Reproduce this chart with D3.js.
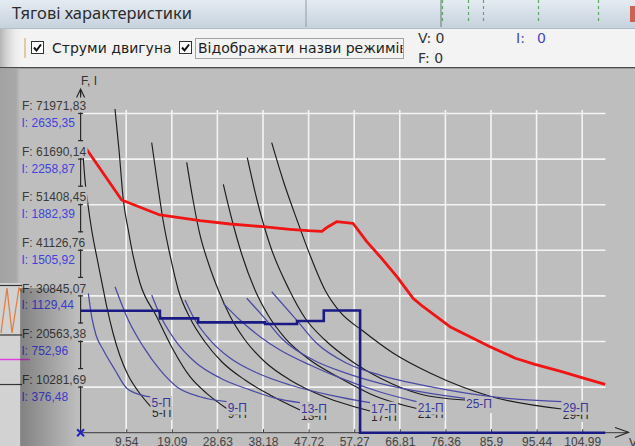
<!DOCTYPE html>
<html>
<head>
<meta charset="utf-8">
<title>Тягові характеристики</title>
<script src="https://cdn.jsdelivr.net/npm/d3@7/dist/d3.min.js"></script>
<style>
  html, body { margin: 0; padding: 0; background: #bebebe; overflow: hidden; }
  svg { display: block; }
</style>
</head>
<body>
<svg id="chart" width="635" height="446"></svg>
<script>
// ---------- axis values ----------
const speedTicks   = [9.54, 19.09, 28.63, 38.18, 47.72, 57.27, 66.81, 76.36, 85.9, 95.44, 104.99];
const forceTicks   = [10281.69, 20563.38, 30845.07, 41126.76, 51408.45, 61690.14, 71971.83];
const currentTicks = [376.48, 752.96, 1129.44, 1505.92, 1882.39, 2258.87, 2635.35];
const modeNames    = ["5-П", "9-П", "13-П", "17-П", "21-П", "25-П", "29-П"];

// ---------- limiting tractive force (red) ----------
const limitSpeed = [0, 8.6, 16.6, 25.0, 31.3, 38.1, 43.8, 47.6, 50.5, 51.8, 53.6, 57.0, 59.9, 62.7, 66.2, 69.6, 71.7, 77.3, 85.7, 91.0, 95.1, 100.7, 104.9, 109.8];
const limitForce = [65880, 52470, 49090, 47800, 47060, 46450, 45860, 45550, 45410, 46450, 47580, 47220, 43070, 39680, 35180, 30300, 28410, 23900, 19390, 16780, 15420, 13750, 12400, 10910];

// ---------- tractive force per mode (black) ----------
const forceSpeed = [
  [0.44, 0.92, 1.55, 2.39, 3.43, 4.48, 5.53, 6.78, 8.25, 9.92, 12.01, 14.74],
  [7.20, 8.04, 8.94, 9.98, 11.03, 12.43, 15.93, 19.40, 22.90, 26.39, 30.58],
  [14.88, 15.99, 17.25, 18.71, 20.45, 22.90, 26.04, 29.60, 34.41, 39.64, 45.92],
  [22.21, 23.53, 24.99, 26.67, 28.82, 31.27, 34.41, 38.60, 43.83, 51.15, 60.58],
  [29.87, 31.69, 33.78, 36.50, 39.23, 42.79, 48.02, 54.30, 61.63, 70.35],
  [34.89, 36.92, 39.64, 43.68, 46.97, 51.15, 56.38, 62.66, 71.03, 80.46],
  [40.00, 42.36, 45.29, 48.01, 51.15, 54.30, 59.11, 65.39, 73.13, 86.05, 100.70]
];
const forceValue = [
  [63740, 56980, 51340, 45250, 39390, 33750, 28120, 22480, 17290, 13010, 9400, 5800],
  [72990, 63740, 52470, 45700, 39680, 33750, 26160, 18650, 12630, 8880, 5460],
  [65390, 56980, 47960, 40070, 32180, 25860, 20450, 15940, 11880, 8500, 5120],
  [60970, 52470, 44580, 38490, 32180, 26310, 20900, 15940, 11880, 8050, 4890],
  [56010, 47960, 40070, 32180, 26540, 21350, 16390, 12330, 8280, 5460],
  [62010, 52470, 42320, 32180, 25860, 20900, 16390, 12330, 8730, 7370],
  [65390, 56980, 47960, 40070, 32180, 27220, 22930, 17970, 13460, 8120, 5340]
];

// ---------- motor current per mode (blue) ----------
const currentSpeed = [
  [1.61, 2.32, 3.22, 4.75, 7.20, 9.65, 12.79, 14.63],
  [7.20, 9.98, 13.12, 16.62, 20.11, 24.99, 30.58],
  [14.88, 16.62, 19.76, 23.95, 29.18, 35.46, 40.69, 45.92],
  [21.85, 23.95, 27.09, 31.27, 36.50, 43.83, 52.20, 60.58],
  [29.87, 33.36, 37.55, 41.74, 48.02, 54.30, 62.68, 70.35],
  [34.77, 38.24, 42.43, 48.71, 55.70, 62.67, 73.13, 80.46],
  [40.00, 45.23, 49.42, 55.70, 62.67, 73.13, 86.05, 100.70]
];
const currentValue = [
  [1151, 958, 807, 683, 518, 367, 311, 295],
  [1205, 930, 710, 518, 380, 297, 256],
  [1137, 972, 765, 584, 452, 353, 286, 248],
  [1096, 930, 765, 617, 501, 394, 311, 248],
  [1068, 930, 793, 683, 559, 452, 336, 256],
  [1110, 958, 765, 600, 490, 408, 325, 284],
  [1164, 930, 738, 573, 476, 380, 297, 256]
];

// ---------- motor current along the run (thick, stepped) ----------
const runSpeed   = [0, 16.6, 24.6, 38.6, 45.3, 50.9, 58.5, 109.8];
const runCurrent = [1007, 944, 911, 897, 922, 1009, 0, 0];

// ---------- drawing ----------
const W = 635, H = 446;
const svg = d3.select("#chart");
const defs = svg.append("defs");
const SANS = "'Liberation Sans', Arial, sans-serif";
const UI = "'DejaVu Sans', Verdana, sans-serif";
const BG = "#bebebe";

const x  = d3.scaleLinear().domain([0, 114.534]).range([80.6, 627.8]);
const yF = d3.scaleLinear().domain([0, 82253.52]).range([432.7, 67.9]);
const yI = d3.scaleLinear().domain([0, 3011.84]).range([432.7, 67.9]);

// window title bar
const tg = defs.append("linearGradient").attr("id", "tbar").attr("x1", 0).attr("y1", 0).attr("x2", 0).attr("y2", 1);
tg.append("stop").attr("offset", 0).attr("stop-color", "#e4ebf2");
tg.append("stop").attr("offset", 1).attr("stop-color", "#c6d2de");
svg.append("rect").attr("width", W).attr("height", 28).attr("fill", "url(#tbar)");
[[306, "#8f9aa8"], [441, "#6c747c"]].forEach(([lx, c]) =>
  svg.append("line").attr("x1", lx).attr("x2", lx).attr("y1", 0).attr("y2", 27).attr("stroke", c).attr("stroke-width", 1));
[441, 467, 482, 537, 597].forEach(lx =>
  svg.append("line").attr("x1", lx + 1.5).attr("x2", lx + 1.5).attr("y1", 0).attr("y2", 22)
    .attr("stroke", "#3f9c3f").attr("stroke-width", 1.2).attr("stroke-dasharray", "3,3").attr("opacity", 0.8));
svg.append("rect").attr("x", 630).attr("y", 6).attr("width", 5).attr("height", 16).attr("fill", "#d06050");
svg.append("text").attr("x", 12).attr("y", 18.5).text("Тягові характеристики")
  .attr("font-family", "'Noto Sans', 'Open Sans', sans-serif").attr("font-size", 16.5).attr("fill", "#2c2c2c");

// toolbar strip
svg.append("rect").attr("y", 28).attr("width", W).attr("height", 40).attr("fill", "#f3f3f3");
svg.append("line").attr("x1", 0).attr("x2", W).attr("y1", 28.5).attr("y2", 28.5).attr("stroke", "#b4bcc4");
svg.append("line").attr("x1", 0).attr("x2", W).attr("y1", 67.8).attr("y2", 67.8).attr("stroke", "#4a4a4a").attr("stroke-width", 1.6);
svg.append("line").attr("x1", 25).attr("x2", 25).attr("y1", 38).attr("y2", 58).attr("stroke", "#e2c9a8").attr("stroke-width", 2);

function checkbox(cx, cy) {
  svg.append("rect").attr("x", cx + 0.5).attr("y", cy + 0.5).attr("width", 12).attr("height", 12)
    .attr("fill", "#ffffff").attr("stroke", "#333333");
  svg.append("path").attr("d", `M${cx + 3},${cy + 6.5} L${cx + 5.5},${cy + 9.5} L${cx + 10},${cy + 3.5}`)
    .attr("fill", "none").attr("stroke", "#111111").attr("stroke-width", 2);
}
checkbox(31, 41);
checkbox(179, 41);
svg.append("text").attr("x", 52).attr("y", 52.5).text("Струми двигуна")
  .attr("font-family", UI).attr("font-size", 14).attr("fill", "#1e1e1e");
defs.append("clipPath").attr("id", "lblclip").append("rect").attr("x", 190).attr("y", 30).attr("width", 212.5).attr("height", 36);
svg.append("text").attr("x", 198).attr("y", 52.5).text("Відображати назви режимів")
  .attr("font-family", UI).attr("font-size", 14).attr("fill", "#1e1e1e").attr("clip-path", "url(#lblclip)");
svg.append("rect").attr("x", 195.5).attr("y", 38.5).attr("width", 208).attr("height", 20)
  .attr("fill", "none").attr("stroke", "#555555").attr("stroke-dasharray", "1,1");
svg.append("text").attr("x", 418).attr("y", 43).text("V: 0").attr("font-family", UI).attr("font-size", 14).attr("fill", "#333333");
svg.append("text").attr("x", 418).attr("y", 63).text("F: 0").attr("font-family", UI).attr("font-size", 14).attr("fill", "#333333");
svg.append("text").attr("x", 516).attr("y", 43).text("I:").attr("font-family", UI).attr("font-size", 14).attr("fill", "#4747c2");
svg.append("text").attr("x", 537).attr("y", 43).text("0").attr("font-family", UI).attr("font-size", 14).attr("fill", "#4747c2");

// plot background
svg.append("rect").attr("y", 68.6).attr("width", W).attr("height", H - 68.6).attr("fill", BG);

// grid
const grid = svg.append("g").attr("stroke", "#f4f4f4").attr("stroke-width", 1.6);
speedTicks.forEach(t => grid.append("line").attr("x1", x(t)).attr("x2", x(t)).attr("y1", 110).attr("y2", yF(0) - 1));
forceTicks.forEach(t => grid.append("line").attr("x1", x(0)).attr("x2", 605.5).attr("y1", yF(t)).attr("y2", yF(t)));

// speed axis
const xAxis = d3.axisBottom(x).tickValues(speedTicks).tickSize(-3).tickSizeOuter(0).tickPadding(4.8)
  .tickFormat(d => String(d).replace(".", ","));
const gx = svg.append("g").attr("transform", `translate(0,${yF(0) - 0.5})`).call(xAxis)
  .attr("font-family", SANS).attr("font-size", 12);
gx.select(".domain").attr("stroke", "#3a3a3a");
gx.selectAll(".tick line").attr("stroke", "#3a3a3a");
gx.selectAll(".tick text").attr("fill", "#444444");

// force/current axis line
svg.append("line").attr("x1", x(0)).attr("x2", x(0)).attr("y1", 90).attr("y2", yF(0))
  .attr("stroke", "#2a2a2a").attr("stroke-width", 1.2);

// curves
const lineF = d3.line().x(d => x(d[0])).y(d => yF(d[1])).curve(d3.curveMonotoneX);
const lineI = d3.line().x(d => x(d[0])).y(d => yI(d[1])).curve(d3.curveMonotoneX);
const curves = svg.append("g").attr("fill", "none");
forceSpeed.forEach((vs, k) => {
  curves.append("path").attr("d", lineF(vs.map((v, i) => [v, forceValue[k][i]])))
    .attr("stroke", "#1c1c1c").attr("stroke-width", 1.15);
});
currentSpeed.forEach((vs, k) => {
  curves.append("path").attr("d", lineI(vs.map((v, i) => [v, currentValue[k][i]])))
    .attr("stroke", "#4a4aa6").attr("stroke-width", 1.25);
});
curves.append("path")
  .attr("d", d3.line().x(d => x(d[0])).y(d => yF(d[1]))(limitSpeed.map((v, i) => [v, limitForce[i]])))
  .attr("stroke", "#f01414").attr("stroke-width", 2.8).attr("stroke-linejoin", "round");
curves.append("path")
  .attr("d", d3.line().x(d => x(d[0])).y(d => yI(d[1])).curve(d3.curveStepAfter)(runSpeed.map((v, i) => [v, runCurrent[i]])))
  .attr("stroke", "#1a1a84").attr("stroke-width", 2.6);

// force / current tick labels
const yl = svg.append("g").attr("font-family", SANS).attr("font-size", 12);
forceTicks.forEach((t, i) => {
  const gy = yF(t);
  const f = yl.append("text").attr("x", 22).attr("y", gy - 3.3).attr("fill", "#3a3a3a")
    .text("F: " + String(t).replace(".", ","));
  const w = f.node().getComputedTextLength();
  yl.insert("rect", "text").attr("x", 20).attr("y", gy - 18).attr("width", w + 3.5).attr("height", 17).attr("fill", BG);
  yl.append("text").attr("x", 21.5).attr("y", gy + 13.4).attr("fill", "#4242dc")
    .text("I: " + String(currentTicks[i]).replace(".", ","));
});
// small caps on the axis segments
const caps = svg.append("g").attr("stroke", "#2a2a2a").attr("stroke-width", 1.2);
forceTicks.forEach((t, i) => {
  caps.append("line").attr("x1", x(0) - 2.5).attr("x2", x(0) + 2.5).attr("y1", yF(t)).attr("y2", yF(t));
  if (i < forceTicks.length - 1)
    caps.append("line").attr("x1", x(0) - 2.5).attr("x2", x(0) + 2.5).attr("y1", yF(t) - 18.5).attr("y2", yF(t) - 18.5);
});

// axis arrows and titles
svg.append("path").attr("d", `M${x(0) - 4},97.5 L${x(0)},89 L${x(0) + 4},97.5 M${x(0)},89 L${x(0)},97.5`)
  .attr("fill", "none").attr("stroke", "#222222").attr("stroke-width", 1.1);
svg.append("text").attr("x", 81).attr("y", 85).text("F, I").attr("font-family", SANS).attr("font-size", 12).attr("fill", "#333333");
svg.append("path").attr("d", `M615,427.5 L628.5,${yF(0) - 0.5} L615,437.5`)
  .attr("fill", "none").attr("stroke", "#222222").attr("stroke-width", 1.1);
svg.append("text").attr("x", 629).attr("y", 447).text("V").attr("font-family", SANS).attr("font-size", 12).attr("fill", "#333333");
svg.append("path").attr("d", `M${x(0) - 3.5},${yF(0) - 3.5} L${x(0) + 3.5},${yF(0) + 3.5} M${x(0) - 3.5},${yF(0) + 3.5} L${x(0) + 3.5},${yF(0) - 3.5}`)
  .attr("stroke", "#2222c8").attr("stroke-width", 2);

// mode names at the end of each curve (force names first, current names drawn over them)
const labels = svg.append("g").attr("font-family", SANS).attr("font-size", 12);
function modeLabel(px, py, txt, color) {
  const t = labels.append("text").attr("x", px + 1).attr("y", py + 10).attr("fill", color).text(txt);
  const w = t.node().getComputedTextLength();
  labels.insert("rect", () => t.node()).attr("x", px).attr("y", py - 1).attr("width", w + 2).attr("height", 14).attr("fill", BG);
}
modeNames.forEach((name, k) => {
  const n = forceSpeed[k].length - 1;
  modeLabel(x(forceSpeed[k][n]), yF(forceValue[k][n]), name, "#2a2a2a");
});
modeNames.forEach((name, k) => {
  const n = currentSpeed[k].length - 1;
  modeLabel(x(currentSpeed[k][n]), yI(currentValue[k][n]), name, "#38389c");
});

// neighbouring window along the left edge, with its shadow
const lg = defs.append("linearGradient").attr("id", "leftstrip").attr("x1", 0).attr("x2", 1);
lg.append("stop").attr("offset", 0).attr("stop-color", "#a2a2a2");
lg.append("stop").attr("offset", 0.8).attr("stop-color", "#a8a8a8");
lg.append("stop").attr("offset", 1).attr("stop-color", BG);
svg.append("rect").attr("x", 0).attr("y", 68.6).attr("width", 20).attr("height", 215).attr("fill", "url(#leftstrip)");
const tl = defs.append("linearGradient").attr("id", "toolleft").attr("x1", 0).attr("x2", 1);
tl.append("stop").attr("offset", 0).attr("stop-color", "#b4b4b4");
tl.append("stop").attr("offset", 1).attr("stop-color", "#f3f3f3").attr("stop-opacity", 0);
svg.append("rect").attr("x", 0).attr("y", 29).attr("width", 24).attr("height", 38).attr("fill", "url(#toolleft)");
svg.append("rect").attr("x", 0).attr("y", 283).attr("width", 21).attr("height", 163).attr("fill", "#d2d2d2");
[285.5, 335, 384.5].forEach(ly =>
  svg.append("line").attr("x1", 0).attr("x2", 22).attr("y1", ly).attr("y2", ly).attr("stroke", "#333333").attr("stroke-width", 1.2));
svg.append("path").attr("d", "M1,333 L7,288 L12,333 L19,288 L22,292").attr("fill", "none").attr("stroke", "#e08040").attr("stroke-width", 1.3);
svg.append("line").attr("x1", 0).attr("x2", 30).attr("y1", 359.5).attr("y2", 359.5).attr("stroke", "#e040e0").attr("stroke-width", 1.5);
const sh = defs.append("linearGradient").attr("id", "shade").attr("x1", 0).attr("x2", 1);
sh.append("stop").attr("offset", 0).attr("stop-color", "#000").attr("stop-opacity", 0.32);
sh.append("stop").attr("offset", 1).attr("stop-color", "#000").attr("stop-opacity", 0);
svg.append("rect").attr("x", 20).attr("y", 288).attr("width", 58).attr("height", 158).attr("fill", "url(#shade)");
</script>
</body>
</html>
